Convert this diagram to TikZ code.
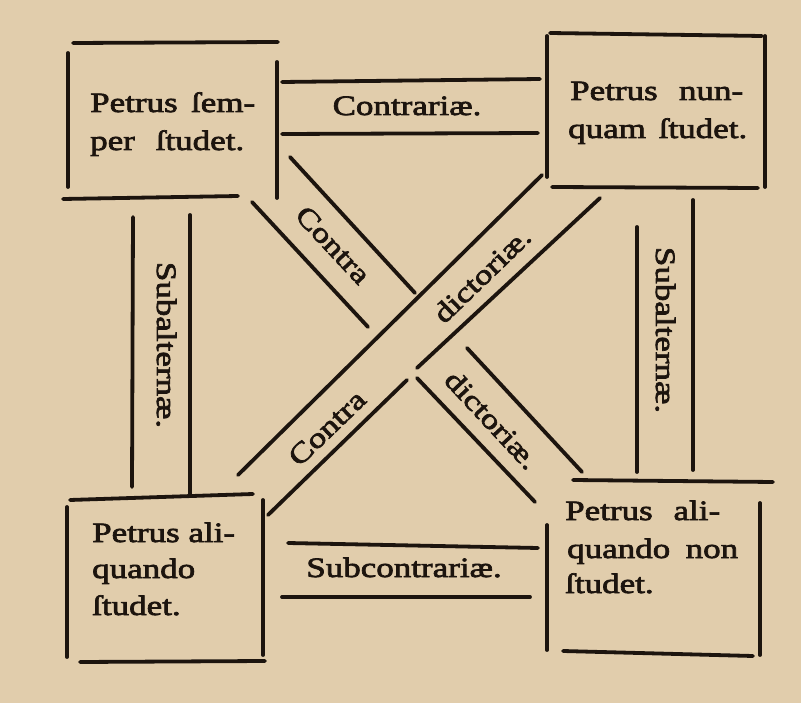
\documentclass[tikz,border=0pt]{standalone}
\usepackage{fontspec}
\setmainfont{Liberation Serif}[FakeStretch=1.25, FakeBold=2.5]
\definecolor{paper}{RGB}{225,205,172}
\definecolor{ink}{RGB}{28,20,14}
\tikzset{
  rule/.style={draw=ink, line width=3.8pt, line cap=round},
  txt/.style={text=ink, font=\fontsize{28}{37}\selectfont, inner sep=0pt},
  lineL/.style={txt, anchor=base west},
}
\newcommand{\jline}[2]{\makebox[#1pt][s]{#2}}
\begin{document}
\begin{tikzpicture}[x=1pt,y=-1pt]
\fill[paper] (0,0) rectangle (801,703);
\useasboundingbox (0,0) rectangle (801,703);

% ---- Box A (top left)
\draw[rule] (73,43) -- (278,42);
\draw[rule] (68,53) -- (68,187);
\draw[rule] (277,62) -- (277,198);
\draw[rule] (63,199) -- (238,196);
\node[lineL] (a1) at (90,112) {\jline{165}{Petrus ſem-}};
\node[lineL] (a2) at (90,150) {\jline{154}{per ſtudet.}};

% ---- Contrariae band
\draw[rule] (282,82) -- (540,79);
\draw[rule] (282,134) -- (538,133);
\node[txt, anchor=base] (contr) at (407,115) {Contrariæ.};

% ---- Box B (top right)
\draw[rule] (550,33) -- (762,36);
\draw[rule] (547,36) -- (547,177);
\draw[rule] (765,36) -- (765,187);
\draw[rule] (552,187) -- (758,188);
\node[lineL] (b1) at (570,100) {\jline{173}{Petrus nun-}};
\node[lineL] (b2) at (568,138) {\jline{179}{quam ſtudet.}};

% ---- Subalternae right band
\draw[rule] (637,227) -- (637,472);
\draw[rule] (693,200) -- (693,470);
\node[txt, anchor=base, rotate=-90] (subR) at (656,330) {Subalternæ.};

% ---- Box D (bottom right)
\draw[rule] (573,480) -- (773,482);
\draw[rule] (547,525) -- (547,650);
\draw[rule] (760,503) -- (760,655);
\draw[rule] (563,651) -- (753,656);
\node[lineL] (d1) at (565,520) {\jline{155}{Petrus ali-}};
\node[lineL] (d2) at (567,558) {\jline{171}{quando non}};
\node[lineL] (d3) at (565,593) {ſtudet.};

% ---- Subcontrariae band
\draw[rule] (288,543) -- (538,548);
\draw[rule] (282,597) -- (530,597);
\node[txt, anchor=base] (subc) at (404,577) {Subcontrariæ.};

% ---- Box C (bottom left)
\draw[rule] (70,500) -- (253,494);
\draw[rule] (67,507) -- (67,657);
\draw[rule] (263,500) -- (263,655);
\draw[rule] (80,662) -- (265,661);
\node[lineL] (c1) at (92,542) {Petrus ali-};
\node[lineL] (c2) at (92,578) {quando};
\node[lineL] (c3) at (92,615) {ſtudet.};

% ---- Subalternae left band
\draw[rule] (133,217) -- (132,487);
\draw[rule] (190,215) -- (190,495);
\node[txt, anchor=base, rotate=-90] (subL) at (157,345) {Subalternæ.};

% ---- Diagonal band TL-BR (interrupted at crossing)
\draw[rule] (290,157) -- (415,293);
\draw[rule] (467,348) -- (582,472);
\draw[rule] (252,202) -- (368,327);
\draw[rule] (417,378) -- (535,502);
\node[txt, rotate=-47] (k1) at (333,245) {Contra};
\node[txt, rotate=-47] (k2) at (492,420) {dictoriæ.};

% ---- Diagonal band BL-TR (passes over)
\draw[rule] (542,175) -- (238,475);
\draw[rule] (600,198) -- (417,368);
\draw[rule] (407,380) -- (268,515);
\node[txt, rotate=44] (k3) at (327,428) {Contra};
\node[txt, rotate=44] (k4) at (482,275) {dictoriæ.};
\end{tikzpicture}
\end{document}
